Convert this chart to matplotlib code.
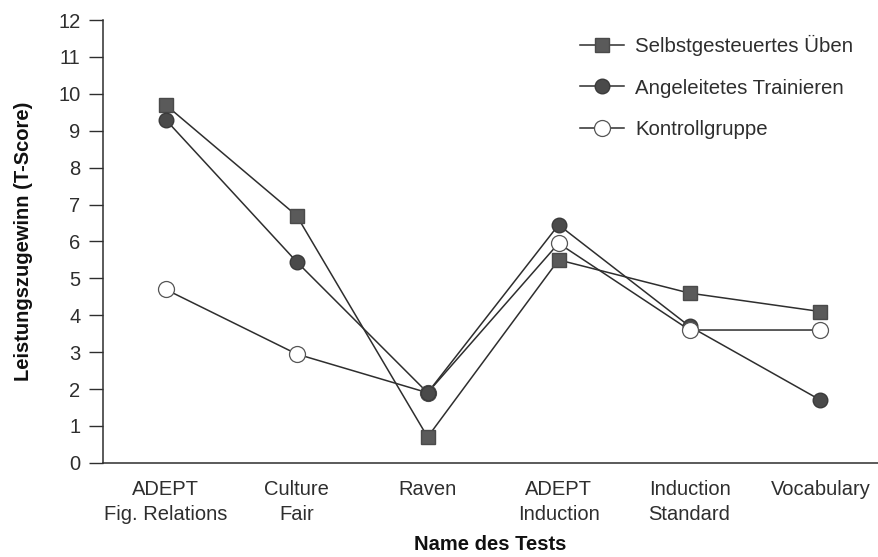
import matplotlib
matplotlib.use('Agg')
import matplotlib.pyplot as plt

plt.rcParams['font.family'] = ['Liberation Sans', 'DejaVu Sans']

tests = ['ADEPT\nFig. Relations', 'Culture\nFair', 'Raven', 'ADEPT\nInduction',
         'Induction\nStandard', 'Vocabulary']
selbst = [9.7, 6.7, 0.7, 5.5, 4.6, 4.1]
angeleitet = [9.3, 5.45, 1.9, 6.45, 3.7, 1.7]
kontroll = [4.7, 2.95, 1.9, 5.95, 3.6, 3.6]

ink = '#2e2e2e'
x = list(range(len(tests)))

fig = plt.figure(figsize=(8.79, 5.57), dpi=100)
ax = fig.add_axes([0.117, 0.169, 0.882, 0.795])

ax.plot(x, selbst, '-s', color=ink, lw=1.1, markersize=9.5, markerfacecolor='#5a5a5a',
        markeredgecolor='#4a4a4a', label='Selbstgesteuertes Üben', zorder=3)
ax.plot(x, angeleitet, '-o', color=ink, lw=1.1, markersize=10.5, markerfacecolor='#4a4a4a',
        markeredgecolor='#3a3a3a', label='Angeleitetes Trainieren', zorder=3)
ax.plot(x, kontroll, '-o', color=ink, lw=1.1, markersize=11.5, markerfacecolor='white',
        markeredgecolor='#555555', markeredgewidth=0.9, label='Kontrollgruppe', zorder=4)

# where both groups have the same value the filled marker sits on top
same = [i for i in x if angeleitet[i] == kontroll[i]]
ax.plot([x[i] for i in same], [angeleitet[i] for i in same], 'o', markersize=10.5,
        markerfacecolor='#4a4a4a', markeredgecolor='#3a3a3a', zorder=5)

ax.set_xlim(-0.48, 5.44)
ax.set_ylim(0, 12)
ax.set_yticks(range(0, 13))
ax.set_xticks(x)
ax.set_xticklabels(tests, fontsize=14.5, color=ink, linespacing=1.45)
ax.tick_params(axis='x', length=0, pad=12)
ax.tick_params(axis='y', labelsize=14.5, labelcolor=ink, color=ink, length=10, width=1, pad=6)

for s in ['top', 'right']:
    ax.spines[s].set_visible(False)
for s in ['left', 'bottom']:
    ax.spines[s].set_color(ink)
    ax.spines[s].set_linewidth(1.1)

ax.set_ylabel('Leistungszugewinn (T-Score)', fontsize=14.5, fontweight='bold', color='#111111', labelpad=18)
ax.set_xlabel('Name des Tests', fontsize=14.5, fontweight='bold', color='#111111', labelpad=8)

fig.legend(loc='upper left', bbox_to_anchor=(0.66, 0.937), frameon=False, fontsize=14.7,
           handlelength=2.15, labelspacing=1.1, handletextpad=0.55, borderpad=0,
           borderaxespad=0, labelcolor=ink)

fig.savefig('out.png', dpi=100)
